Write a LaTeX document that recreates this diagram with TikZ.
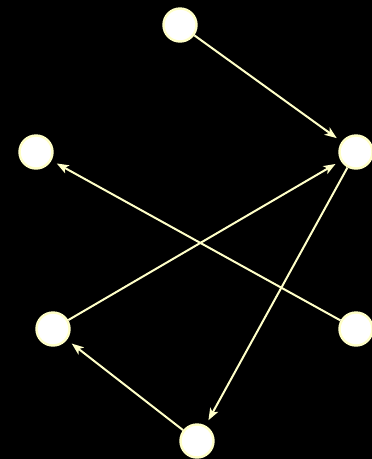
\documentclass[tikz,border=0pt]{standalone}
\usepackage{tikz}
\usetikzlibrary{arrows.meta}

\definecolor{paleyellow}{RGB}{255,255,200}

\begin{document}
\begin{tikzpicture}[x=1pt, y=-1pt,
    vertex/.style={circle, fill=white, draw=paleyellow, line width=2.4pt, minimum size=33pt, inner sep=0pt},
    edge/.style={-{Stealth[length=12pt, width=9pt, inset=3pt]}, draw=paleyellow, line width=2pt, shorten >=6pt}]

% Background
\fill[black] (0,0) rectangle (372,459);
\useasboundingbox (0,0) rectangle (372,459);

% Vertices
\node[vertex] (top) at (180,25) {};
\node[vertex] (rup) at (356,152) {};
\node[vertex] (lup) at (36,152) {};
\node[vertex] (llow) at (53,329) {};
\node[vertex] (rlow) at (356,329) {};
\node[vertex] (bot) at (197,441) {};

% Directed edges
\foreach \a/\b in {top/rup, llow/rup, rup/bot, rlow/lup, bot/llow} {
    \draw[edge] (\a) -- (\b);
}

\end{tikzpicture}
\end{document}
